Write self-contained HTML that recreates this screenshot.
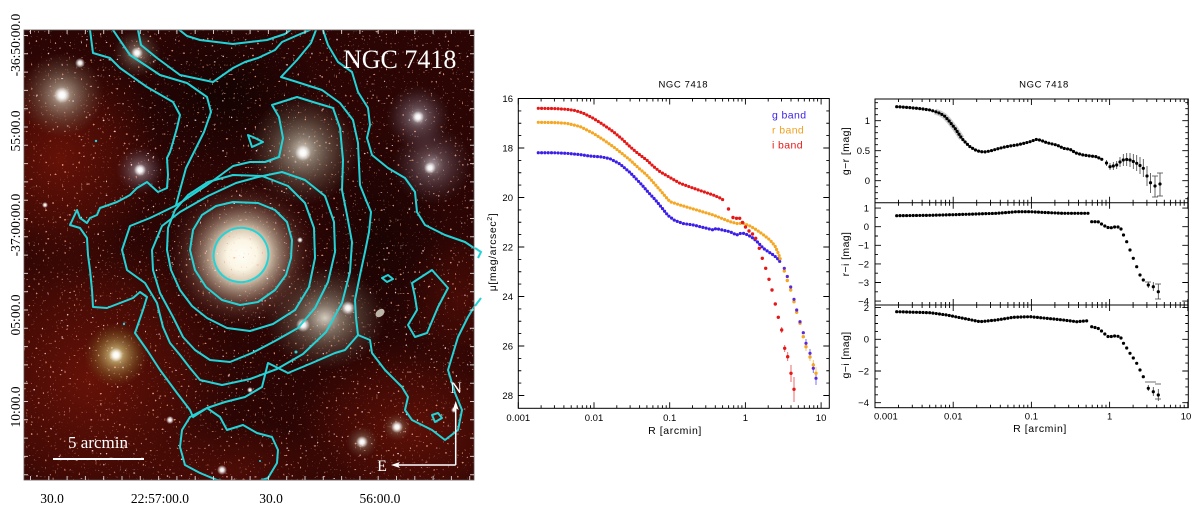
<!DOCTYPE html>
<html><head><meta charset="utf-8"><style>
html,body{margin:0;padding:0;background:#fff;}
svg{display:block;}
.pl{font-family:"Liberation Sans",sans-serif;fill:#000;}
.sr{font-family:"Liberation Serif",serif;}
</style></head><body>
<svg width="1200" height="506" viewBox="0 0 1200 506" xmlns="http://www.w3.org/2000/svg">
<defs>
<clipPath id="ic"><rect x="24" y="30" width="450" height="450"/></clipPath>
<radialGradient id="red"><stop offset="0" stop-color="#701408" stop-opacity="0.85"/><stop offset="0.6" stop-color="#621006" stop-opacity="0.5"/><stop offset="1" stop-color="#560e06" stop-opacity="0"/></radialGradient>
<radialGradient id="dark"><stop offset="0" stop-color="#0e0202" stop-opacity="0.8"/><stop offset="1" stop-color="#0e0202" stop-opacity="0"/></radialGradient>
<radialGradient id="hg"><stop offset="0" stop-color="#e6e4d6" stop-opacity="0.9"/><stop offset="0.25" stop-color="#bdbaa6" stop-opacity="0.6"/><stop offset="0.6" stop-color="#8e8a74" stop-opacity="0.32"/><stop offset="1" stop-color="#6e6a58" stop-opacity="0"/></radialGradient>
<radialGradient id="hp"><stop offset="0" stop-color="#e0dce4" stop-opacity="0.85"/><stop offset="0.3" stop-color="#aaa2b0" stop-opacity="0.45"/><stop offset="0.65" stop-color="#7c6e80" stop-opacity="0.25"/><stop offset="1" stop-color="#5a4a5a" stop-opacity="0"/></radialGradient>
<radialGradient id="hy"><stop offset="0" stop-color="#f0e8b0" stop-opacity="0.95"/><stop offset="0.3" stop-color="#c8b870" stop-opacity="0.65"/><stop offset="0.7" stop-color="#8a7830" stop-opacity="0.3"/><stop offset="1" stop-color="#6a5a20" stop-opacity="0"/></radialGradient>
<radialGradient id="core"><stop offset="0" stop-color="#fff" stop-opacity="1"/><stop offset="0.35" stop-color="#fff" stop-opacity="0.9"/><stop offset="1" stop-color="#fff" stop-opacity="0"/></radialGradient>
<radialGradient id="gal"><stop offset="0" stop-color="#fffef6"/><stop offset="0.2" stop-color="#fbf5e4"/><stop offset="0.34" stop-color="#e6d8c0" stop-opacity="0.95"/><stop offset="0.5" stop-color="#bca690" stop-opacity="0.7"/><stop offset="0.72" stop-color="#8a6050" stop-opacity="0.35"/><stop offset="1" stop-color="#4a1a14" stop-opacity="0"/></radialGradient>
<filter id="sp1" x="0" y="0" width="1" height="1" color-interpolation-filters="sRGB">
<feTurbulence type="fractalNoise" baseFrequency="0.42" numOctaves="1" seed="3"/>
<feColorMatrix type="matrix" values="0 0 0 0 1  0 0 0 0 0.68  0 0 0 0 0.55  12 0 0 0 -8.2"/>
</filter>
<filter id="sp2" x="0" y="0" width="1" height="1" color-interpolation-filters="sRGB">
<feTurbulence type="fractalNoise" baseFrequency="0.36" numOctaves="1" seed="11"/>
<feColorMatrix type="matrix" values="0 0 0 0 1  0 0 0 0 0.92  0 0 0 0 0.96  14 0 0 0 -10.2"/>
</filter>
<g id="tm"><path d="M0 0v-6M22.8 0v-3M36.1 0v-3M45.6 0v-3M52.9 0v-3M58.9 0v-3M64 0v-3M68.4 0v-3M72.2 0v-3" stroke="#000" stroke-width="0.9" fill="none"/></g>
<g id="tr"><path d="M0 0v-6M23.5 0v-3M37.3 0v-3M47.1 0v-3M54.7 0v-3M60.8 0v-3M66.1 0v-3M70.6 0v-3M74.6 0v-3" stroke="#000" stroke-width="0.9" fill="none"/></g>
<g id="ym"><path d="M0 148h6M0 197.5h6M0 247h6M0 296.5h6M0 346h6M0 395.5h6M0 110.9h3M0 123.25h3M0 135.6h3M0 160.4h3M0 172.75h3M0 185.1h3M0 209.9h3M0 222.25h3M0 234.6h3M0 259.4h3M0 271.75h3M0 284.1h3M0 308.9h3M0 321.25h3M0 333.6h3M0 358.4h3M0 370.75h3M0 383.1h3" stroke="#000" stroke-width="0.9" fill="none"/></g>
<g id="yr"><path d="M0 120.7h6M0 150.7h6M0 180.7h6M0 102.7h3M0 108.7h3M0 114.7h3M0 126.7h3M0 132.7h3M0 138.7h3M0 144.7h3M0 156.7h3M0 162.7h3M0 168.7h3M0 174.7h3M0 186.7h3M0 192.7h3M0 198.7h3M0 208.1h6M0 226.7h6M0 245.3h6M0 263.9h6M0 282.5h6M0 301.1h6M0 217.4h3M0 236h3M0 254.6h3M0 273.2h3M0 291.8h3M0 307.6h6M0 339.3h6M0 371h6M0 402.7h6M0 315.5h3M0 323.5h3M0 331.4h3M0 347.2h3M0 355.2h3M0 363.1h3M0 378.9h3M0 386.9h3M0 394.8h3" stroke="#000" stroke-width="0.9" fill="none"/></g>
</defs>

<!-- ================= LEFT IMAGE ================= -->
<g clip-path="url(#ic)">
<rect x="24" y="30" width="450" height="450" fill="#2a0504"/>
<ellipse cx="90" cy="380" rx="150" ry="150" fill="url(#red)"/>
<ellipse cx="60" cy="160" rx="100" ry="110" fill="url(#red)"/>
<ellipse cx="410" cy="430" rx="120" ry="90" fill="url(#red)" opacity="0.85"/>
<ellipse cx="230" cy="470" rx="110" ry="50" fill="url(#red)" opacity="0.6"/>
<ellipse cx="460" cy="300" rx="60" ry="70" fill="url(#red)" opacity="0.5"/>
<ellipse cx="225" cy="95" rx="95" ry="75" fill="url(#dark)"/>
<ellipse cx="380" cy="240" rx="70" ry="110" fill="url(#dark)" opacity="0.7"/>
<circle cx="62" cy="95" r="42" fill="url(#hg)"/>
<circle cx="137" cy="53" r="24" fill="url(#hg)" opacity="0.75"/>
<circle cx="140" cy="170" r="24" fill="url(#hp)"/>
<circle cx="303" cy="150" r="55" fill="url(#hg)"/>
<circle cx="418" cy="117" r="32" fill="url(#hp)"/>
<circle cx="432" cy="165" r="40" fill="url(#hp)" opacity="0.85"/>
<ellipse cx="325" cy="318" rx="60" ry="52" fill="url(#hg)"/>
<circle cx="116" cy="355" r="32" fill="url(#hy)"/>
<circle cx="397" cy="427" r="14" fill="url(#hg)" opacity="0.7"/>
<circle cx="362" cy="442" r="16" fill="url(#hg)" opacity="0.7"/>
<ellipse cx="242" cy="255" rx="76" ry="74" fill="url(#gal)" transform="rotate(-30 242 255)"/>
<rect x="24" y="30" width="450" height="450" filter="url(#sp1)" opacity="0.8"/>
<rect x="24" y="30" width="450" height="450" filter="url(#sp2)" opacity="0.85"/>
<g fill="url(#core)">
<circle cx="62" cy="95" r="8"/><circle cx="80" cy="63" r="5"/><circle cx="137" cy="53" r="6"/>
<circle cx="140" cy="170" r="6"/><circle cx="303" cy="153" r="8"/><circle cx="418" cy="117" r="6"/>
<circle cx="430" cy="168" r="6"/><circle cx="348" cy="308" r="7"/><circle cx="303" cy="325" r="7"/>
<circle cx="116" cy="355" r="7"/><circle cx="397" cy="427" r="6"/><circle cx="362" cy="442" r="6"/>
<circle cx="222" cy="470" r="5"/><circle cx="45" cy="205" r="3"/><circle cx="170" cy="420" r="4"/>
<circle cx="300" cy="240" r="3"/><circle cx="454" cy="410" r="3"/><circle cx="250" cy="390" r="3"/>
</g>
<ellipse cx="380" cy="313" rx="5" ry="3.5" fill="#bdb5a8" transform="rotate(-40 380 313)"/>
<g fill="none" stroke="#22d4d8" stroke-width="2" stroke-linejoin="round" stroke-linecap="round">
<ellipse cx="241" cy="255" rx="27.5" ry="27" transform="rotate(-30 241 255)"/>
<polygon points="233,202 258,203 275,210 287,222 292,240 291,258 286,275 275,290 258,302 240,305 222,300 206,287 195,270 190,250 193,230 202,215 216,206"/>
<polygon points="233,175 262,176 288,186 305,203 314,228 315,258 309,287 295,310 273,324 250,331 227,328 207,318 192,306 180,290 171,270 167,250 168,228 175,210 188,195 208,182"/>
<polygon points="152,250 153,270 160,293 173,317 183,337 195,350 210,360 230,362 252,353 275,341 298,328 315,308 328,282 335,252 334,222 325,196 305,180 282,172 258,177 236,183 208,196 180,212 162,226"/>
<polygon points="122,250 127,270 145,283 157,303 163,327 170,343 180,355 190,368 200,380 222,385 250,379 277,369 303,354 326,332 342,303 350,272 352,242 347,215 342,190 343,160 340,128 333,108 313,102 297,97 272,105 279,117 283,138 279,157 265,162 250,162 233,166 207,185 177,205 150,218 130,226"/>
<polyline points="113,30 130,55 160,75 187,83 207,97 211,112 204,132 194,152 186,168 180,190 176,205"/>
<polyline points="138,30 141,45 157,58 180,75 213,82 233,68 245,62 258,58 275,50 282,42 298,35 310,30"/>
<polyline points="316,30 311,43 297,60 281,77 297,82 322,90 340,103 353,120 358,143 359,165 360,185 366,200 371,212 369,232 365,252 360,275 355,300 356,318 358,335"/>
<polyline points="323,30 328,45 338,62 352,72 358,92 368,108 370,125 367,138 372,155 388,168 405,178 415,192 417,212 425,225 445,235 465,242 474,248 481,252 478,258"/>
<polyline points="90,30 93,53 110,58 120,68 147,87 173,102 180,115 177,128 173,142 170,152 167,158 168,175 167,188 158,192 147,182 137,188 130,195 117,202 100,208 97,215 90,218 87,223 80,218 77,210 70,225 80,228 87,238 88,255 90,270 92,290 93,307 107,308 133,298 140,292 147,297 143,310 135,333 147,350 160,370 177,393 190,410 193,417 207,408 225,402 245,397 262,387 268,363 288,373 312,363 335,353 345,350 358,335 370,340 372,353 385,370 402,387 408,397 405,410 412,420 432,430 445,440 458,430 462,410 455,393 448,370 458,337 468,317 474,307 481,298"/>
<polygon points="190,417 182,430 180,447 185,465 200,473 217,480 235,482 253,483 268,478 277,463 278,450 272,437 257,433 243,425 227,430 220,417 207,408"/>
<polyline points="177,28 187,36 200,40 233,44 267,40 285,34 293,28"/>
<polygon points="412,283 432,270 448,288 438,307 427,333 415,337 408,325 417,310 415,297"/>
<polygon points="248,135 253,137 263,142 252,147"/>
<polygon points="382,278 388,275 393,279 387,282"/>
<polygon points="432,415 438,413 442,418 435,422"/>
</g>
<g fill="#22d4d8"><circle cx="96" cy="141" r="1.2"/><circle cx="124" cy="324" r="1.2"/><circle cx="296" cy="352" r="1.5"/><circle cx="260" cy="461" r="1"/></g>
</g>
<path d="M475 248 L481 252 L478 258 M475 306 L481 298" stroke="#22d4d8" stroke-width="2" fill="none"/>
<rect x="24" y="30" width="450" height="450" fill="none" stroke="#5a5050" stroke-width="0.8"/>
<g stroke="#e8e8e8" stroke-width="4" stroke-dasharray="1 17.3" fill="none" opacity="0.85">
<line x1="26" y1="35" x2="26" y2="480"/>
<line x1="472" y1="35" x2="472" y2="480"/>
<line x1="30" y1="32" x2="474" y2="32"/>
<line x1="30" y1="478" x2="474" y2="478"/>
</g>
<text x="343" y="68" class="sr" font-size="26" fill="#fff">NGC 7418</text>
<text x="68" y="448" class="sr" font-size="17" fill="#fff">5 arcmin</text>
<line x1="53" y1="459" x2="144" y2="459" stroke="#fff" stroke-width="2"/>
<path d="M455.7 465 V407 M455.7 465 H396" stroke="#fff" stroke-width="1.5" fill="none"/>
<path d="M455.7 401 l-3 9 l3 -2 l3 2z" fill="#fff"/>
<path d="M391 465 l9 -3 l-2 3 l2 3z" fill="#fff"/>
<text x="456" y="393" class="sr" font-size="16" fill="#fff" text-anchor="middle">N</text>
<text x="382" y="471" class="sr" font-size="16" fill="#fff" text-anchor="middle">E</text>
<g class="sr" font-size="13.5" fill="#000">
<text x="52" y="503" text-anchor="middle">30.0</text>
<text x="160" y="503" text-anchor="middle">22:57:00.0</text>
<text x="271" y="503" text-anchor="middle">30.0</text>
<text x="380" y="503" text-anchor="middle">56:00.0</text>
<text transform="translate(20,45) rotate(-90)" text-anchor="middle">-36:50:00.0</text>
<text transform="translate(20,131) rotate(-90)" text-anchor="middle">55:00.0</text>
<text transform="translate(20,225) rotate(-90)" text-anchor="middle">-37:00:00.0</text>
<text transform="translate(20,315) rotate(-90)" text-anchor="middle">05:00.0</text>
<text transform="translate(20,407) rotate(-90)" text-anchor="middle">10:00.0</text>
</g>

<!-- ================= MIDDLE PLOT ================= -->
<rect x="518.3" y="98.5" width="311" height="309.8" fill="none" stroke="#000" stroke-width="1"/>
<use href="#tm" transform="translate(518.3 408.3)"/>
<use href="#tm" transform="translate(594 408.3)"/>
<use href="#tm" transform="translate(669.7 408.3)"/>
<use href="#tm" transform="translate(745.4 408.3)"/>
<use href="#tm" transform="translate(518.3 98.5) scale(1 -1)"/>
<use href="#tm" transform="translate(594 98.5) scale(1 -1)"/>
<use href="#tm" transform="translate(669.7 98.5) scale(1 -1)"/>
<use href="#tm" transform="translate(745.4 98.5) scale(1 -1)"/>
<path d="M821.1 408.3v-6M821.1 98.5v6" stroke="#000" stroke-width="0.9"/>
<use href="#ym" transform="translate(518.3 0)"/>
<use href="#ym" transform="translate(829.3 0) scale(-1 1)"/>
<g class="pl" font-size="9.5">
<text x="683.3" y="87.5" text-anchor="middle" letter-spacing="0.6">NGC 7418</text>
<g text-anchor="end">
<text x="513" y="102">16</text><text x="513" y="151.5">18</text><text x="513" y="201">20</text>
<text x="513" y="250.5">22</text><text x="513" y="300">24</text><text x="513" y="349.5">26</text><text x="513" y="399">28</text>
</g>
<g text-anchor="middle">
<text x="518.3" y="421">0.001</text><text x="594" y="421">0.01</text><text x="669.7" y="421">0.1</text>
<text x="745.4" y="421">1</text><text x="821.1" y="421">10</text>
</g>
</g>
<text class="pl" x="675" y="434" font-size="10.5" text-anchor="middle" letter-spacing="0.6">R [arcmin]</text>
<text class="pl" transform="translate(496,252) rotate(-90)" font-size="10.5" text-anchor="middle" letter-spacing="0.6">μ[mag/arcsec<tspan font-size="7" dy="-4">2</tspan><tspan dy="4">]</tspan></text>
<g font-family="Liberation Sans, sans-serif" font-size="10.5" letter-spacing="0.4">
<text x="772" y="118.5" fill="#3b1fe8">g band</text>
<text x="772" y="133.5" fill="#f2a020">r band</text>
<text x="772" y="148.5" fill="#e51717">i band</text>
</g>
<g fill="none" stroke-linecap="round" stroke-linejoin="round" stroke-width="3.2" stroke-dasharray="0 3.3">
<path stroke="#3b1fe8" d="M538.3 152.7 L555 152.8 L566.7 153.3 L581 154.7 L589 156 L596 156.5 L602 157 L610 158.7 L620 164 L630 172.5 L642 185 L648 192 L655.5 200 L662 208 L668 215.5 L674.8 220.5 L683 223.5 L693.3 225 L706.7 228.3 L713.3 230 L716 228.5 L720 229.5 L730 231.7 L736.7 235 L740 233.5 L743.3 233.3 L748 235 L753.3 238.3 L758 242.5 L763.3 248.3 L768 251.5 L773.3 255 L777 258 L780 261.7"/>
<path stroke="#f5a623" d="M538.3 122.3 L555 122.6 L566.7 123.3 L580 126.5 L593.3 133.3 L603 139.5 L613.3 146.7 L622 153.5 L630 160 L638 167.5 L646.7 175 L653 182 L660 190 L665 196 L670 201.7 L680 205 L696.7 210 L713.3 215 L730 221.7 L737 223.5 L743.3 223.3 L750 226 L756.7 230 L763 234.5 L770 240 L775 246 L778.3 253.3 L781 261"/>
<path stroke="#e51717" d="M538.3 108.3 L555 108.6 L566.7 109.3 L575 110.5 L583 113 L593.3 118.3 L603 124.5 L613.3 131.7 L622 139 L630 146.7 L638 153.5 L646.7 160 L653 166 L660 171.7 L670 177.5 L680 183.3 L690 187 L700 190.5 L713.3 195 L720 198 L725 201"/>
</g>
<g stroke-width="0.9" opacity="0.7">
<path stroke="#e51717" d="M784.7 345v7M787.7 352v9M791 365v17M794 377v25M781.7 327v6"/>
<path stroke="#f5a623" d="M806 343v8M810 352v9M813.3 360v10M816 367v12"/>
<path stroke="#3b1fe8" d="M806 339v8M810 349v9M813.3 363v10M816 372v13"/>
</g>
<g fill="#e51717">
<circle cx="728.5" cy="209" r="1.7"/><circle cx="733" cy="217.5" r="1.7"/><circle cx="736.5" cy="218.3" r="1.7"/><circle cx="739.7" cy="218.3" r="1.7"/><circle cx="742.5" cy="222.5" r="1.7"/><circle cx="745.5" cy="227" r="1.7"/><circle cx="749" cy="231" r="1.7"/><circle cx="752.5" cy="234" r="1.7"/><circle cx="755.7" cy="238.3" r="1.7"/><circle cx="759.3" cy="248.3" r="1.7"/><circle cx="762.3" cy="258.3" r="1.7"/><circle cx="765.7" cy="268.3" r="1.7"/><circle cx="769" cy="279.3" r="1.7"/><circle cx="772" cy="290" r="1.7"/><circle cx="775.3" cy="304" r="1.7"/><circle cx="778.3" cy="317.3" r="1.7"/><circle cx="781.7" cy="330" r="1.7"/><circle cx="784.7" cy="348.3" r="1.7"/><circle cx="787.7" cy="356.7" r="1.7"/><circle cx="791" cy="373.3" r="1.7"/><circle cx="794" cy="389.3" r="1.7"/>
</g>
<g fill="#f5a623">
<circle cx="784.3" cy="271" r="1.7"/><circle cx="787.3" cy="280.5" r="1.7"/><circle cx="790.7" cy="290" r="1.7"/><circle cx="794" cy="301.7" r="1.7"/><circle cx="796.7" cy="312.3" r="1.7"/><circle cx="800" cy="323.3" r="1.7"/><circle cx="803.3" cy="336.7" r="1.7"/><circle cx="806" cy="346.7" r="1.7"/><circle cx="810" cy="357" r="1.7"/><circle cx="813.3" cy="365" r="1.7"/><circle cx="816" cy="373.3" r="1.7"/>
</g>
<g fill="#5a2ad8">
<circle cx="784.3" cy="268.3" r="1.6"/><circle cx="787.3" cy="276.5" r="1.6"/><circle cx="790.7" cy="287" r="1.6"/><circle cx="794" cy="299.3" r="1.6"/><circle cx="796.7" cy="310" r="1.6"/><circle cx="800" cy="321.7" r="1.6"/><circle cx="803.3" cy="332.7" r="1.6"/><circle cx="806" cy="343.3" r="1.6"/><circle cx="810" cy="353.3" r="1.6"/><circle cx="813.3" cy="368.3" r="1.6"/><circle cx="816" cy="378.3" r="1.6"/>
</g>

<!-- ================= RIGHT PLOT ================= -->
<rect x="875" y="99" width="313.3" height="308.7" fill="none" stroke="#000" stroke-width="1"/>
<path d="M875 202.7H1188.3M875 305H1188.3" stroke="#000" stroke-width="1"/>
<use href="#tr" transform="translate(875 407.7)"/><use href="#tr" transform="translate(953.2 407.7)"/><use href="#tr" transform="translate(1031.4 407.7)"/><use href="#tr" transform="translate(1109.6 407.7)"/>
<use href="#tr" transform="translate(875 99) scale(1 -1)"/><use href="#tr" transform="translate(953.2 99) scale(1 -1)"/><use href="#tr" transform="translate(1031.4 99) scale(1 -1)"/><use href="#tr" transform="translate(1109.6 99) scale(1 -1)"/>
<use href="#tr" transform="translate(875 202.7)"/><use href="#tr" transform="translate(953.2 202.7)"/><use href="#tr" transform="translate(1031.4 202.7)"/><use href="#tr" transform="translate(1109.6 202.7)"/>
<use href="#tr" transform="translate(875 202.7) scale(1 -1)"/><use href="#tr" transform="translate(953.2 202.7) scale(1 -1)"/><use href="#tr" transform="translate(1031.4 202.7) scale(1 -1)"/><use href="#tr" transform="translate(1109.6 202.7) scale(1 -1)"/>
<use href="#tr" transform="translate(875 305)"/><use href="#tr" transform="translate(953.2 305)"/><use href="#tr" transform="translate(1031.4 305)"/><use href="#tr" transform="translate(1109.6 305)"/>
<use href="#tr" transform="translate(875 305) scale(1 -1)"/><use href="#tr" transform="translate(953.2 305) scale(1 -1)"/><use href="#tr" transform="translate(1031.4 305) scale(1 -1)"/><use href="#tr" transform="translate(1109.6 305) scale(1 -1)"/>
<path d="M1187.8 407.7v-6M1187.8 99v6M1187.8 202.7v-6M1187.8 202.7v6M1187.8 305v-6M1187.8 305v6" stroke="#000" stroke-width="0.9"/>
<use href="#yr" transform="translate(875 0)"/>
<use href="#yr" transform="translate(1188.3 0) scale(-1 1)"/>
<g class="pl" font-size="9.5">
<text x="1044" y="87.5" text-anchor="middle" letter-spacing="0.6">NGC 7418</text>
<g text-anchor="end">
<text x="870" y="124">1</text><text x="870" y="154">0.5</text><text x="870" y="184">0</text>
<text x="869" y="211.5">1</text><text x="869" y="230">0</text><text x="869" y="248.7">−1</text><text x="869" y="267.3">−2</text><text x="869" y="285.9">−3</text><text x="869" y="304.5">−4</text>
<text x="869" y="311">2</text><text x="869" y="342.7">0</text><text x="869" y="374.4">−2</text><text x="869" y="406.1">−4</text>
</g>
<text x="874" y="419.5">0.001</text>
<g text-anchor="middle">
<text x="953.2" y="419.5">0.01</text><text x="1031.4" y="419.5">0.1</text><text x="1109.6" y="419.5">1</text><text x="1186" y="419.5">10</text>
</g>
</g>
<text class="pl" x="1040" y="432" font-size="10.5" text-anchor="middle" letter-spacing="0.6">R [arcmin]</text>
<g class="pl" font-size="10.5" letter-spacing="0.4" text-anchor="middle">
<text transform="translate(849,151) rotate(-90)">g−r [mag]</text>
<text transform="translate(849,254) rotate(-90)">r−i [mag]</text>
<text transform="translate(849,355) rotate(-90)">g−i [mag]</text>
</g>
<path d="M935 111.5 L940 113.3 L944.5 116 L948.3 120 L951.5 124 L955 128.3 L958.5 133.5 L961.7 138.3" stroke="#777" stroke-width="6" fill="none" opacity="0.35"/>
<g fill="none" stroke="#000" stroke-linecap="round" stroke-linejoin="round" stroke-width="3.2" stroke-dasharray="0 3.3">
<path d="M896.7 106.7 L906 107.3 L916.7 108.3 L923 109 L930 110 L935 111.5 L940 113.3 L944.5 116 L948.3 120 L951.5 124 L955 128.3 L958.5 133.5 L961.7 138.3 L966 143 L970 146.7 L975 149.8 L980 151.7 L985 151.9 L990 151 L996 149.3 L1003.3 147.3 L1010 146 L1016.7 145 L1023 143.6 L1030 141.7 L1036.7 139.3 L1041.5 140.5 L1046.7 142.7 L1051.5 143.8 L1056.7 145 L1060 146.5 L1063.3 148.3 L1070 149.3 L1073.5 151.5 L1076.7 153.3 L1083.3 155 L1090 156 L1096.7 156.7 L1100 158.5 L1103.3 160"/>
<path d="M896.7 215.7 L930 215.3 L960 214.5 L996.7 213.3 L1016.7 211.7 L1030 211.7 L1045 212.5 L1063.3 213.3 L1088.3 213.3"/>
<path d="M896.7 311.7 L930 312.7 L946.7 315 L963.3 318.3 L980 321.7 L996.7 320 L1013.3 317.3 L1030 316.7 L1046.7 318.3 L1063.3 320 L1076.7 321.7 L1088.3 320.7"/>
</g>
<g stroke="#000" stroke-width="0.8" opacity="0.75" fill="none">
<path d="M1106.5 160v6M1110 163v7M1113.3 162v8M1116.7 161v8M1120 157v10M1123.3 154v12M1126.7 153v13M1130 153v14M1133.3 154v15M1136.7 155v16M1140 157v17M1143.3 159v18M1147 166v20M1150.5 173v20M1155 176v21M1160 173v23"/>
<path d="M1148.3 282v6M1153.3 282v9M1158.3 284v15"/>
<path d="M1148.3 385v6M1153.3 387v9M1158.3 389v12"/>
<path d="M1145 382h6M1150 382h6M1155 384h6M1155 399h6M1145 282h6M1155 284h6M1155 299h6M1157 173h6M1157 196h6M1152 176h6M1152 197h6"/>
</g>
<g fill="#000">
<circle cx="1106.5" cy="163" r="1.6"/><circle cx="1110" cy="166.7" r="1.6"/><circle cx="1113.3" cy="166" r="1.6"/><circle cx="1116.7" cy="165" r="1.6"/><circle cx="1120" cy="162" r="1.6"/><circle cx="1123.3" cy="160" r="1.6"/><circle cx="1126.7" cy="159.5" r="1.6"/><circle cx="1130" cy="160" r="1.6"/><circle cx="1133.3" cy="161.5" r="1.6"/><circle cx="1136.7" cy="163.3" r="1.6"/><circle cx="1140" cy="165.5" r="1.6"/><circle cx="1143.3" cy="168.3" r="1.6"/><circle cx="1147" cy="176" r="1.6"/><circle cx="1150.5" cy="182.7" r="1.6"/><circle cx="1155" cy="186" r="1.6"/><circle cx="1160" cy="184" r="1.6"/>
<circle cx="1091.7" cy="221.7" r="1.6"/><circle cx="1095" cy="221.7" r="1.6"/><circle cx="1098.3" cy="221.9" r="1.6"/><circle cx="1101.5" cy="224" r="1.6"/><circle cx="1104.8" cy="226" r="1.6"/><circle cx="1108" cy="227.5" r="1.6"/><circle cx="1111.3" cy="227.7" r="1.6"/><circle cx="1114.6" cy="227" r="1.6"/><circle cx="1118" cy="227" r="1.6"/><circle cx="1121" cy="229" r="1.6"/><circle cx="1123.5" cy="235" r="1.6"/><circle cx="1126.7" cy="241.7" r="1.6"/><circle cx="1130" cy="250" r="1.6"/><circle cx="1133.3" cy="258.3" r="1.6"/><circle cx="1136.7" cy="266.7" r="1.6"/><circle cx="1140" cy="275" r="1.6"/><circle cx="1143.3" cy="280" r="1.6"/><circle cx="1148.3" cy="285" r="1.6"/><circle cx="1153.3" cy="286.7" r="1.6"/><circle cx="1158.3" cy="291.7" r="1.6"/>
<circle cx="1091.7" cy="326.7" r="1.6"/><circle cx="1095" cy="327.5" r="1.6"/><circle cx="1098.3" cy="328.5" r="1.6"/><circle cx="1101.5" cy="331" r="1.6"/><circle cx="1104.8" cy="334" r="1.6"/><circle cx="1108" cy="336.5" r="1.6"/><circle cx="1111.3" cy="336.5" r="1.6"/><circle cx="1114.6" cy="336" r="1.6"/><circle cx="1118" cy="336.3" r="1.6"/><circle cx="1121" cy="338" r="1.6"/><circle cx="1123.5" cy="343.3" r="1.6"/><circle cx="1126.7" cy="348" r="1.6"/><circle cx="1130" cy="353.3" r="1.6"/><circle cx="1133.3" cy="358" r="1.6"/><circle cx="1136.7" cy="363.3" r="1.6"/><circle cx="1140" cy="370" r="1.6"/><circle cx="1143.3" cy="376.7" r="1.6"/><circle cx="1148.3" cy="388.3" r="1.6"/><circle cx="1153.3" cy="391.7" r="1.6"/><circle cx="1158.3" cy="395" r="1.6"/>
</g>
</svg>
</body></html>
